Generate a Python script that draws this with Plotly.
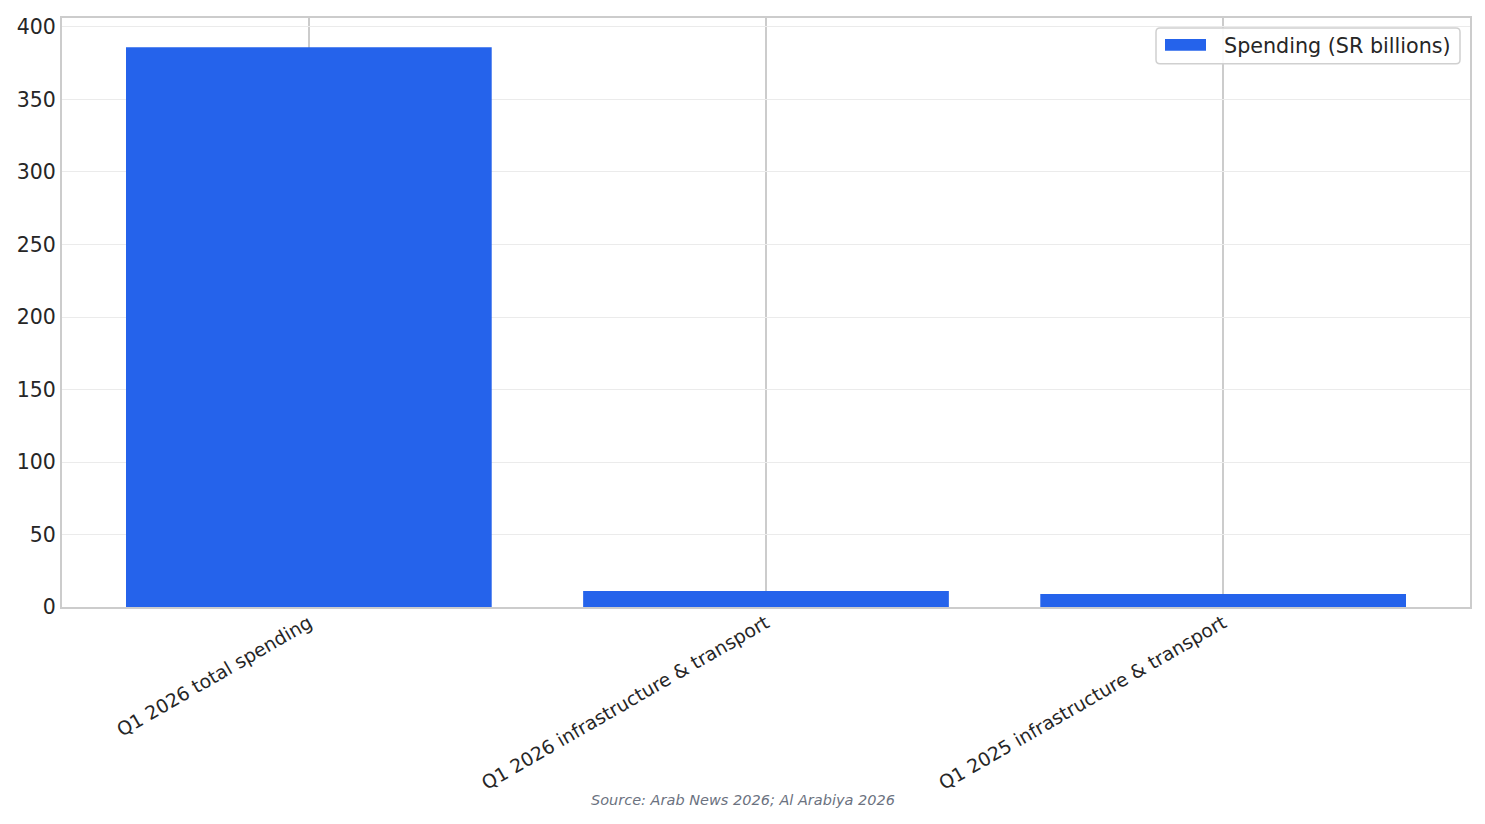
import plotly.graph_objects as go

# data
categories = [
    "Q1 2026 total spending",
    "Q1 2026 infrastructure & transport",
    "Q1 2025 infrastructure & transport",
]
spending = [386, 11, 9]
series_name = "Spending (SR billions)"
source_note = "Source: Arab News 2026; Al Arabiya 2026"
y_ticks = [0, 50, 100, 150, 200, 250, 300, 350, 400]

BAR_COLOR = "#2563eb"

# plot area in page pixels (page has an 8px body margin)
PX0, PX1, PY0, PY1 = 62, 1470, 15, 607


def px(x):
    return (x - PX0) / (PX1 - PX0)


def py(y):
    return (PY1 - y) / (PY1 - PY0)


def rounded_box(x0, y0, x1, y1, r=4):
    # rounded rectangle in paper coords, built from pixel corners
    rx = r / (PX1 - PX0)
    ry = r / (PY1 - PY0)
    a, b, c, d = px(x0), px(x1), py(y1), py(y0)  # left, right, bottom, top
    return (f"M {a+rx},{d} L {b-rx},{d} Q {b},{d} {b},{d-ry} "
            f"L {b},{c+ry} Q {b},{c} {b-rx},{c} L {a+rx},{c} "
            f"Q {a},{c} {a},{c+ry} L {a},{d-ry} Q {a},{d} {a+rx},{d} Z")


fig = go.Figure()
fig.add_trace(go.Bar(
    x=categories,
    y=spending,
    name=series_name,
    marker_color=BAR_COLOR,
    marker_line_width=0,
    width=0.8,
    showlegend=False,
))

fig.update_layout(
    width=1477,
    height=816,
    margin=dict(l=54, r=15, t=7, b=217),
    paper_bgcolor="white",
    plot_bgcolor="white",
    font=dict(family="DejaVu Sans", color="#262626", size=18),
    showlegend=False,
    shapes=[
        # legend frame + swatch
        dict(type="path", xref="paper", yref="paper",
             path=rounded_box(1156, 25, 1460, 61),
             line=dict(color="#d0d0d0", width=1.5), fillcolor="rgba(255,255,255,0.9)"),
        dict(type="rect", xref="paper", yref="paper",
             x0=px(1165), x1=px(1206), y0=py(48), y1=py(36),
             line_width=0, fillcolor=BAR_COLOR),
    ],
    annotations=[
        dict(text=series_name, xref="paper", yref="paper",
             x=px(1222), y=py(43.5), xanchor="left", yanchor="middle",
             showarrow=False, font=dict(size=20.7, color="#262626")),
        dict(text=source_note, xref="paper", yref="paper",
             x=px(742.5), y=py(801), xanchor="center", yanchor="middle",
             showarrow=False,
             font=dict(size=14.5, color="#6b7280", style="italic")),
    ],
)

fig.update_xaxes(
    range=[-0.54, 2.54],
    tickangle=-30,
    tickfont=dict(size=18.8),
    ticklabelstandoff=-4,
    showgrid=True, gridcolor="#cccccc", gridwidth=1.5,
    showline=True, linecolor="#cccccc", linewidth=2, mirror=True,
    ticks="", ticklen=0,
)
fig.update_yaxes(
    range=[0, 406.2],
    tickvals=y_ticks,
    tickfont=dict(size=20.5),
    showgrid=True, gridcolor="#ebebeb", gridwidth=1,
    showline=True, linecolor="#cccccc", linewidth=2, mirror=True,
    zeroline=False,
    ticks="", ticklen=0,
)

fig.write_html("out.html")
